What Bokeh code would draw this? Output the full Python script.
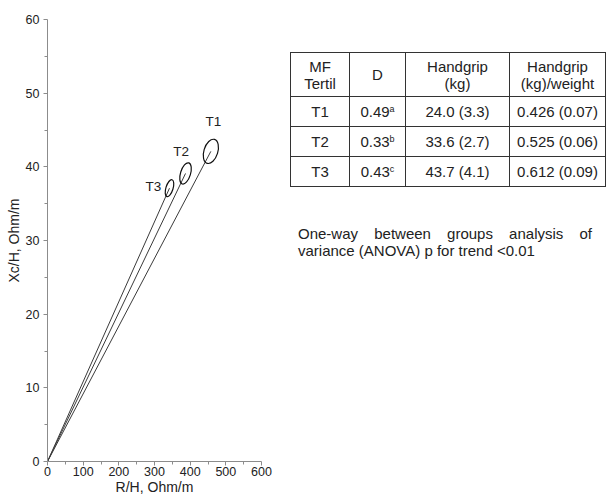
from bokeh.plotting import figure
from bokeh.models import Div, FixedTicker
from bokeh.layouts import row
from bokeh.embed import file_html
from bokeh.resources import INLINE
from bokeh.core.properties import value

# ---- data ----
tertiles = ["T1", "T2", "T3"]
r_mean = [458, 387, 342]          # R/H, Ohm/m
xc_mean = [42.1, 39.1, 37.1]      # Xc/H, Ohm/m
ell_w = [39, 28, 20]              # ellipse width (R/H units)
ell_h = [3.4, 3.0, 2.4]           # ellipse height (Xc/H units)
label_r = [465, 375, 297]
label_xc = [46.2, 42.1, 37.3]

x_ticks = [0, 100, 200, 300, 400, 500, 600]
y_ticks = [0, 10, 20, 30, 40, 50, 60]

table_header = ["MF<br>Tertil", "D", "Handgrip<br>(kg)", "Handgrip<br>(kg)/weight"]
table_d = ["0.49", "0.33", "0.43"]
table_d_sup = ["a", "b", "c"]
table_hg = ["24.0 (3.3)", "33.6 (2.7)", "43.7 (4.1)"]
table_hgw = ["0.426 (0.07)", "0.525 (0.06)", "0.612 (0.09)"]
note = "One-way between groups analysis of variance (ANOVA) p for trend &lt;0.01"

FONT = "Liberation Sans"

p = figure(width=275, height=497, x_range=(0, 600), y_range=(0, 60),
           output_backend="svg", toolbar_location=None,
           min_border_left=47, min_border_right=14, min_border_top=19, min_border_bottom=30)
p.outline_line_color = None
p.grid.grid_line_color = None
p.background_fill_color = "white"
p.border_fill_color = "white"

for ax in (p.xaxis[0], p.yaxis[0]):
    ax.axis_line_color = "#8c8c8c"
    ax.major_tick_line_color = "#8c8c8c"
    ax.minor_tick_line_color = "#8c8c8c"
    ax.major_tick_in = 0
    ax.major_tick_out = 4
    ax.minor_tick_in = 0
    ax.minor_tick_out = 3
    ax.major_label_text_font = FONT
    ax.major_label_text_font_size = "12.5px"
    ax.major_label_text_color = "#222222"
    ax.axis_label_text_font = FONT
    ax.axis_label_text_font_size = "14px"
    ax.axis_label_text_font_style = "normal"
    ax.axis_label_text_color = "#222222"

p.xaxis.ticker = FixedTicker(ticks=x_ticks, minor_ticks=[50, 150, 250, 350, 450, 550])
p.yaxis.ticker = FixedTicker(ticks=y_ticks, minor_ticks=[5, 15, 25, 35, 45, 55])
p.xaxis.axis_label = "R/H, Ohm/m"
p.yaxis.axis_label = "Xc/H, Ohm/m"
p.xaxis.major_label_standoff = 1
p.xaxis.axis_label_standoff = 0
p.yaxis.major_label_standoff = 4
p.yaxis.axis_label_standoff = 1

for r, xc in zip(r_mean, xc_mean):
    p.line([0, r], [0, xc], line_color="#3a3a3a", line_width=1)

p.ellipse(x=r_mean, y=xc_mean, width=ell_w, height=ell_h, angle=-0.3,
          fill_color=None, line_color="#111111", line_width=1.2)

p.text(x=label_r, y=label_xc, text=tertiles, text_font=value(FONT),
       text_font_size="13.5px", text_color="#222222",
       text_align="center", text_baseline="middle")

# ---- table ----
cell = "border:1px solid #333;text-align:center;padding:0;"
rows_html = "<tr style='height:44px'>" + "".join(
    f"<td style='{cell}line-height:17px'>{h}</td>" for h in table_header) + "</tr>"
for t, d, s, hg, hgw in zip(tertiles, table_d, table_d_sup, table_hg, table_hgw):
    rows_html += ("<tr style='height:30px'>"
                  f"<td style='{cell}'>{t}</td>"
                  f"<td style='{cell}'>{d}<span style='font-size:9px;vertical-align:5px;line-height:0'>{s}</span></td>"
                  f"<td style='{cell}'>{hg}</td>"
                  f"<td style='{cell}'>{hgw}</td></tr>")

html = (f"<div style='font-family:\"{FONT}\",Arial,sans-serif;color:#222;font-size:15px;'>"
        "<table style='border-collapse:collapse;table-layout:fixed;width:315px;margin-left:10px;margin-top:47px;'>"
        "<colgroup><col style='width:59px'><col style='width:56px'><col style='width:104px'><col style='width:96px'></colgroup>"
        + rows_html + "</table>"
        f"<div style='margin-left:18px;margin-top:38px;width:294px;text-align:justify;line-height:17px;font-size:15px'>{note}</div>"
        "</div>")

div = Div(text=html, width=317, height=300)

layout = row(p, div)
open("out.html", "w").write(file_html(layout, INLINE))
